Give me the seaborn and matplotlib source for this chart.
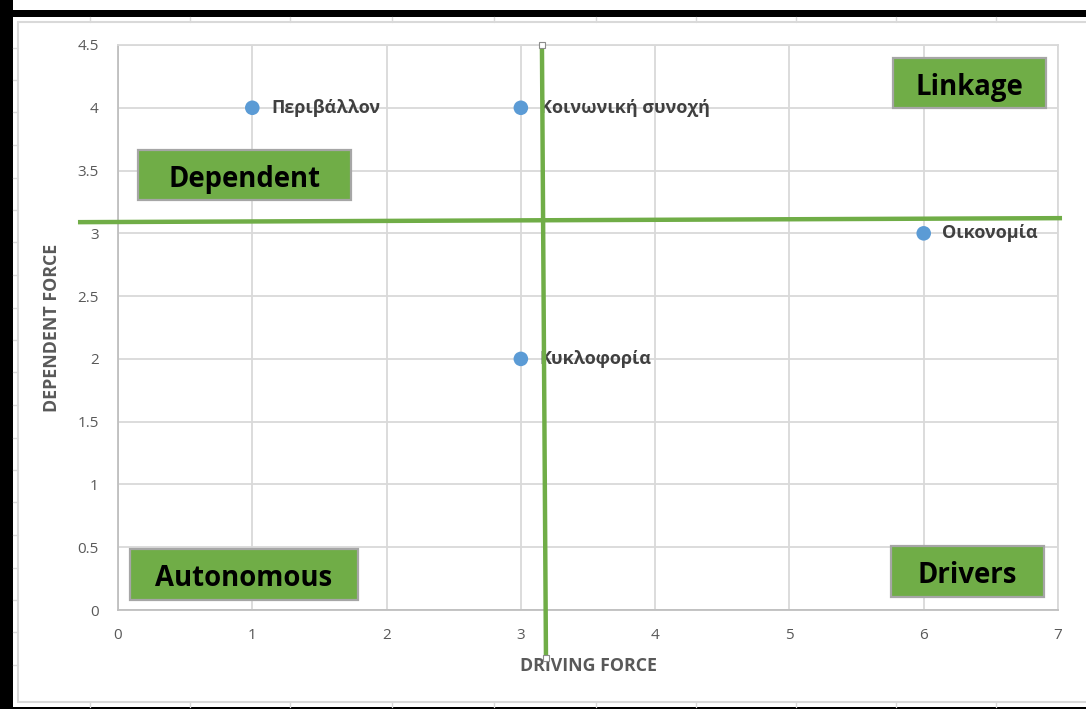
import matplotlib
matplotlib.use("Agg")
import matplotlib.pyplot as plt
from matplotlib.patches import Rectangle
import seaborn as sns
import pandas as pd

# Factor positions on the driving / dependent force plane
factors = ["Περιβάλλον", "Κοινωνική συνοχή", "Οικονομία", "Κυκλοφορία"]
driving = [1, 3, 6, 3]
dependent = [4, 4, 3, 2]

x_ticks = [0, 1, 2, 3, 4, 5, 6, 7]
y_ticks = [0, 0.5, 1, 1.5, 2, 2.5, 3, 3.5, 4, 4.5]
y_tick_labels = ["0", "0.5", "1", "1.5", "2", "2.5", "3", "3.5", "4", "4.5"]

quadrant_names = ["Linkage", "Dependent", "Autonomous", "Drivers"]

sns.set_theme(style="white")
plt.rcParams["font.family"] = ["Open Sans", "DejaVu Sans"]

fig = plt.figure(figsize=(10.86, 7.09), dpi=100)
fig.patch.set_facecolor("white")

# Sheet-style frame around the chart
W, H = 1086, 709
def fx(px):
    return px / W
def fy(py):
    return 1 - py / H

frame = "#D9D9D9"
fig.add_artist(plt.Line2D([fx(18), fx(1086)], [fy(22), fy(22)], color=frame, lw=1.5))
fig.add_artist(plt.Line2D([fx(18), fx(18)], [fy(22), fy(702)], color=frame, lw=1.5))
fig.add_artist(plt.Line2D([fx(18), fx(1086)], [fy(702), fy(702)], color=frame, lw=1.5))
for cx in [90, 190, 290, 392, 494, 596, 696, 796, 896, 996]:
    fig.add_artist(plt.Line2D([fx(cx), fx(cx)], [fy(17), fy(22)], color=frame, lw=1))
    fig.add_artist(plt.Line2D([fx(cx), fx(cx)], [fy(702), fy(707)], color=frame, lw=1))
for cy in [48, 80, 112, 145, 178, 210, 242, 275, 308, 340, 372, 405, 438, 470, 502, 535, 568, 600, 632, 665]:
    fig.add_artist(plt.Line2D([fx(13), fx(18)], [fy(cy), fy(cy)], color=frame, lw=1))
# Black outer border
fig.add_artist(Rectangle((0, fy(709)), fx(13), 1, color="black", lw=0))
fig.add_artist(Rectangle((fx(5), fy(17)), 1, fy(10) - fy(17), color="black", lw=0))
fig.add_artist(Rectangle((0, 0), 1, fy(707), color="black", lw=0))

ax = fig.add_axes([118 / W, 1 - 610 / H, (1058 - 118) / W, (610 - 45) / H])
ax.set_xlim(0, 7)
ax.set_ylim(0, 4.5)

df = pd.DataFrame({"factor": factors, "driving": driving, "dependent": dependent})

ax.grid(True, color="#D9D9D9", lw=1.3)
ax.set_axisbelow(True)
for s in ax.spines.values():
    s.set_color("#D9D9D9")
    s.set_linewidth(1.3)
ax.spines["left"].set_color("#BFBFBF")
ax.spines["bottom"].set_color("#BFBFBF")

sns.scatterplot(data=df, x="driving", y="dependent", ax=ax, color="#5B9BD5",
                s=110, edgecolor="none", zorder=4, clip_on=False)

for name, xv, yv in zip(factors, driving, dependent):
    ax.annotate(name, (xv, yv), xytext=(13.5, 0), textcoords="offset points",
                ha="left", va="center", fontsize=13, fontweight="bold",
                color="#404040", zorder=5)

# Quadrant dividers
green = "#70AD47"
ax.plot([-0.298, 7.03], [3.089, 3.121], color=green, lw=3.2, clip_on=False, zorder=6,
        solid_capstyle="butt")
ax.plot([3.157, 3.187], [4.5, -0.382], color=green, lw=3.2, clip_on=False, zorder=6,
        solid_capstyle="butt")
ax.plot([3.157, 3.187], [4.5, -0.382], ls="none", marker="s", ms=5,
        mfc="white", mec="#8C8C8C", mew=0.8, clip_on=False, zorder=9)

# Quadrant labels
boxes = [
    (5.771, 3.998, 6.910, 4.396),
    (0.149, 3.265, 1.735, 3.664),
    (0.089, 0.080, 1.787, 0.486),
    (5.756, 0.104, 6.895, 0.510),
]
for name, (x0, y0, x1, y1) in zip(quadrant_names, boxes):
    ax.add_patch(Rectangle((x0, y0), x1 - x0, y1 - y0, facecolor=green,
                           edgecolor="#A6A6A6", lw=1.6, zorder=7, clip_on=False))
    ax.text((x0 + x1) / 2, (y0 + y1) / 2 - 0.035, name, ha="center", va="center",
            fontsize=19.8, fontweight="bold", color="black", zorder=8)

ax.set_xticks(x_ticks)
ax.set_yticks(y_ticks)
ax.set_yticklabels(y_tick_labels)
ax.tick_params(axis="both", length=0, labelsize=11, colors="#595959")
ax.tick_params(axis="x", pad=13)
ax.tick_params(axis="y", pad=14)

ax.set_xlabel("DRIVING FORCE", fontsize=12.8, fontweight="bold", color="#595959", labelpad=10)
ax.set_ylabel("DEPENDENT FORCE", fontsize=12.8, fontweight="bold", color="#595959", labelpad=12)

fig.savefig("out.png", dpi=100, facecolor="white")
